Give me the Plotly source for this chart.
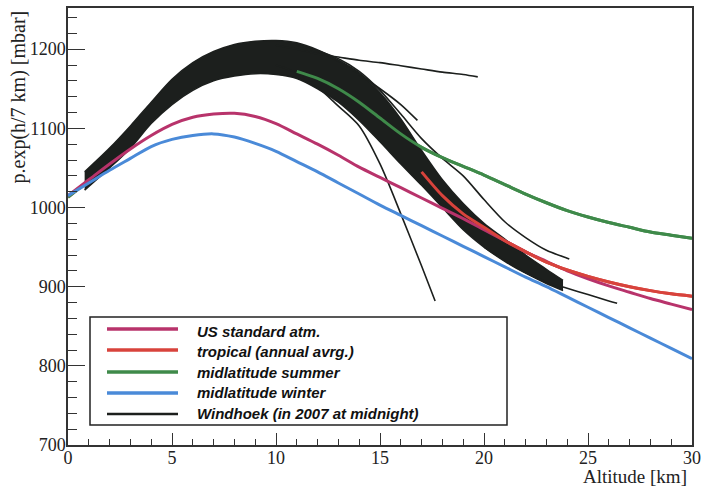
import plotly.graph_objects as go

# ---------------- data ----------------
alt = list(range(0, 31))

us_standard = [1015, 1035, 1055, 1074, 1091, 1105, 1114, 1118, 1119, 1115, 1106,
               1093, 1080, 1066, 1051, 1038, 1025, 1012, 999, 986, 972,
               958, 944, 932, 920, 910, 901, 893, 885, 878, 871]

tropical = [1013, 1035, 1060, 1087, 1117, 1143, 1163, 1177, 1185, 1190, 1191,
            1187, 1177, 1158, 1130, 1104, 1075, 1045, 1015, 992, 975,
            958, 944, 931, 921, 913, 906, 900, 895, 891, 888]

mid_summer = [1013, 1034, 1058, 1085, 1114, 1140, 1157, 1167, 1172, 1175, 1176,
              1172, 1163, 1150, 1133, 1113, 1093, 1076, 1063, 1052, 1041,
              1029, 1017, 1006, 996, 988, 981, 975, 969, 965, 961]

mid_winter = [1015, 1031, 1047, 1062, 1077, 1086, 1091, 1093, 1089, 1081, 1071,
              1058, 1045, 1031, 1017, 1003, 990, 977, 964, 951, 938,
              925, 912, 900, 887, 874, 861, 848, 835, 822, 809]

# Windhoek soundings: envelope of the dense bundle
band_alt = [0.8, 2, 3, 4, 5, 6, 7, 8, 9, 10, 11, 12, 13, 14, 15, 16, 17, 18,
            19, 20, 21, 22, 23, 23.8]
band_upper = [1045, 1075, 1103, 1133, 1162, 1183, 1197, 1206, 1210, 1211, 1208,
              1199, 1186, 1170, 1145, 1112, 1072, 1035, 1005, 980, 960, 940,
              922, 908]
band_lower = [1022, 1050, 1075, 1106, 1130, 1148, 1160, 1166, 1169, 1168, 1163,
              1150, 1133, 1110, 1083, 1055, 1028, 1000, 972, 950, 932, 917,
              904, 895]

# Windhoek soundings that leave the bundle
wh_a_alt = [10, 11, 12, 13, 14, 15, 16, 17, 18, 19, 19.7]
wh_a_p = [1205, 1200, 1194, 1190, 1186, 1183, 1179, 1175, 1171, 1168, 1165]
wh_b_alt = [11, 12, 13, 14, 15, 16, 16.8]
wh_b_p = [1205, 1197, 1185, 1168, 1150, 1130, 1110]
wh_c_alt = [10, 11, 12, 13, 14, 15, 16, 17, 17.65]
wh_c_p = [1180, 1170, 1152, 1128, 1103, 1055, 992, 926, 882]
wh_d_alt = [12, 13, 14, 15, 16, 17, 18, 19, 20, 21, 22, 23, 24, 24.1]
wh_d_p = [1198, 1188, 1172, 1148, 1118, 1087, 1062, 1040, 1010, 982, 962, 946, 936, 935]
wh_e_alt = [20, 21, 22, 23, 24, 25, 26, 26.4]
wh_e_p = [950, 933, 918, 906, 898, 890, 882, 879]

x_ticks = [0, 5, 10, 15, 20, 25, 30]
y_ticks = [700, 800, 900, 1000, 1100, 1200]

legend_names = ["US standard atm.", "tropical (annual avrg.)", "midlatitude summer",
                "midlatitude winter", "Windhoek (in 2007 at midnight)"]

# ---------------- styles ----------------
C_US = "#b8336b"
C_TROP = "#d8433c"
C_SUM = "#3f8a4a"
C_WIN = "#4a8ad8"
C_BLK = "#1c1f1d"
legend_colors = [C_US, C_TROP, C_SUM, C_WIN, C_BLK]

fig = go.Figure()

def line(x, y, color, width):
    fig.add_trace(go.Scatter(x=x, y=y, mode="lines",
                             line=dict(color=color, width=width, shape="spline", smoothing=0.8),
                             showlegend=False, hoverinfo="skip"))

# colored curves that lie beneath the bundle
line(alt, tropical, C_TROP, 3)
line(alt, mid_summer, C_SUM, 3)

# the bundle of Windhoek soundings
fig.add_trace(go.Scatter(x=band_alt, y=band_lower, mode="lines",
                         line=dict(color=C_BLK, width=1.5, shape="spline", smoothing=0.8),
                         showlegend=False, hoverinfo="skip"))
fig.add_trace(go.Scatter(x=band_alt, y=band_upper, mode="lines", fill="tonexty",
                         fillcolor=C_BLK,
                         line=dict(color=C_BLK, width=1.5, shape="spline", smoothing=0.8),
                         showlegend=False, hoverinfo="skip"))
for xa, ya in [(wh_a_alt, wh_a_p), (wh_b_alt, wh_b_p), (wh_c_alt, wh_c_p),
               (wh_d_alt, wh_d_p), (wh_e_alt, wh_e_p)]:
    line(xa, ya, C_BLK, 1.6)

# colored curves drawn over the bundle
line(alt, us_standard, C_US, 3)
line(alt, mid_winter, C_WIN, 3)
line(alt[11:], mid_summer[11:], C_SUM, 3)
line(alt[17:], tropical[17:], C_TROP, 3)

# ---------------- layout ----------------
L, R, T, B = 68, 11, 8, 42
W, H = 703, 487
pw, ph = W - L - R, H - T - B

def px2paper(px, py):
    return (px - L) / pw, (H - B - py) / ph

shapes = []
annotations = []
# legend box
bx0, by0 = px2paper(90, 425)
bx1, by1 = px2paper(507, 317)
shapes.append(dict(type="rect", xref="paper", yref="paper", x0=bx0, y0=by0, x1=bx1, y1=by1,
                   line=dict(color="#222", width=1.5), fillcolor="white", layer="above"))
line_y = [329, 350, 372, 393, 414]
text_y = [331, 351, 372, 392, 413]
for name, col, ly_px, ty_px in zip(legend_names, legend_colors, line_y, text_y):
    lx0, ly = px2paper(107, ly_px)
    lx1, _ = px2paper(178, ly_px)
    shapes.append(dict(type="line", xref="paper", yref="paper", x0=lx0, x1=lx1, y0=ly, y1=ly,
                       line=dict(color=col, width=3.5 if col != C_BLK else 2.5), layer="above"))
    tx, ty = px2paper(195, ty_px)
    annotations.append(dict(xref="paper", yref="paper", x=tx, y=ty, text=name, showarrow=False,
                            xanchor="left", yanchor="middle",
                            font=dict(family="Liberation Sans", size=15, color="#111",
                                      weight="bold", style="italic")))

# axis titles
tx, ty = px2paper(18, 9)
annotations.append(dict(xref="paper", yref="paper", x=tx, y=ty, text="p.exp(h/7 km) [mbar]",
                        textangle=-90, showarrow=False, xanchor="center", yanchor="top",
                        font=dict(family="Liberation Serif", size=20, color="#222")))
tx, ty = px2paper(689, 476)
annotations.append(dict(xref="paper", yref="paper", x=tx, y=ty, text="Altitude [km]",
                        showarrow=False, xanchor="right", yanchor="middle",
                        font=dict(family="Liberation Serif", size=19, color="#222")))

tickfont = dict(family="Liberation Serif", size=18, color="#222")
fig.update_layout(
    width=W, height=H,
    margin=dict(l=L, r=R, t=T, b=B, autoexpand=False),
    paper_bgcolor="white", plot_bgcolor="white",
    shapes=shapes, annotations=annotations,
    showlegend=False,
    xaxis=dict(range=[0, 30], tickvals=x_ticks, ticktext=[str(v) for v in x_ticks],
               ticks="inside", ticklen=12, tickwidth=1.2, tickcolor="#333",
               minor=dict(dtick=1, ticks="inside", ticklen=6, tickcolor="#333", tickwidth=1),
               showgrid=False, zeroline=False, showline=True, linecolor="#333", linewidth=1.5,
               mirror=True, tickfont=tickfont, automargin=False, ticklabelstandoff=-4),
    yaxis=dict(range=[700, 1252], tickvals=y_ticks, ticktext=[str(v) for v in y_ticks],
               ticks="inside", ticklen=17, tickwidth=1.2, tickcolor="#333",
               minor=dict(dtick=20, ticks="inside", ticklen=9, tickcolor="#333", tickwidth=1),
               showgrid=False, zeroline=False, showline=True, linecolor="#333", linewidth=1.5,
               mirror=True, tickfont=tickfont, automargin=False, ticklabelstandoff=-3),
)

fig.write_html("out.html", config={"displayModeBar": False},
               post_script="document.body.style.margin='0';")
